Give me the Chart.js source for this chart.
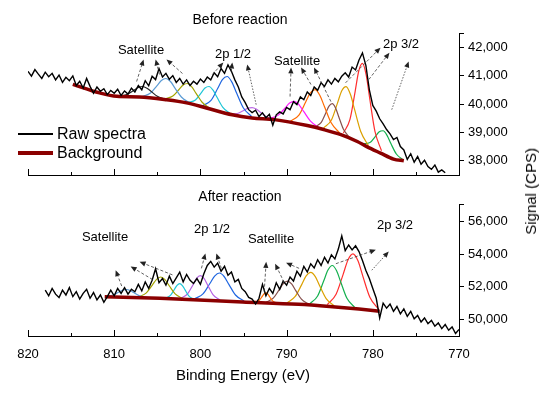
<!DOCTYPE html>
<html>
<head>
<meta charset="utf-8">
<script src="https://cdn.jsdelivr.net/npm/chart.js@4.4.1/dist/chart.umd.min.js"></script>
<style>
  body { margin: 0; background: #fff; font-family: "Liberation Sans", Arial, sans-serif; }
  #wrap { position: relative; width: 550px; height: 393px; overflow: hidden; }
  canvas { position: absolute; left: 0; }
  .t { position: absolute; transform: translate(-50%, -50%); white-space: nowrap; color: #000; font-size: 13px; }
  .leg { position: absolute; left: 57px; transform: translateY(-50%); font-size: 16px; color: #000; }
  .legline { position: absolute; left: 18px; width: 35px; }
  .ytitle { position: absolute; left: 522px; top: 148px; font-size: 15px; color: #000; white-space: nowrap;
            writing-mode: vertical-rl; transform: rotate(180deg); line-height: 17px; }
</style>
</head>
<body>
<div id="wrap">
  <canvas id="cTop" width="550" height="193" style="top:0"></canvas>
  <canvas id="cBot" width="550" height="200" style="top:193px"></canvas>

  <div class="t" style="left:240px;top:19px;font-size:14px">Before reaction</div>
  <div class="t" style="left:240px;top:196px;font-size:14px">After reaction</div>
  <div class="t" style="left:141px;top:49px">Satellite</div>
  <div class="t" style="left:233px;top:53px">2p 1/2</div>
  <div class="t" style="left:297px;top:60px">Satellite</div>
  <div class="t" style="left:401px;top:43px">2p 3/2</div>
  <div class="t" style="left:105px;top:236px">Satellite</div>
  <div class="t" style="left:212px;top:228px">2p 1/2</div>
  <div class="t" style="left:271px;top:238px">Satellite</div>
  <div class="t" style="left:395px;top:224px">2p 3/2</div>
  <div class="t" style="left:243px;top:374px;font-size:15px">Binding Energy (eV)</div>
  <div class="ytitle">Signal (CPS)</div>

  <div class="legline" style="top:133px;height:1.5px;background:#000"></div>
  <div class="leg" style="top:134px">Raw spectra</div>
  <div class="legline" style="top:151px;height:4px;background:#8b0000"></div>
  <div class="leg" style="top:153px">Background</div>
</div>

<script>
// binding energy grid of the raw scans (eV)
const energy = [
  820.0, 819.6, 819.2, 818.8, 818.4, 818.0, 817.6, 817.2, 816.8, 816.4,
  816.0, 815.6, 815.2, 814.8, 814.4, 814.0, 813.6, 813.2, 812.8, 812.4,
  812.0, 811.6, 811.2, 810.8, 810.4, 810.0, 809.6, 809.2, 808.8, 808.4,
  808.0, 807.6, 807.2, 806.8, 806.4, 806.0, 805.6, 805.2, 804.8, 804.4,
  804.0, 803.6, 803.2, 802.8, 802.4, 802.0, 801.6, 801.2, 800.8, 800.4,
  800.0, 799.6, 799.2, 798.8, 798.4, 798.0, 797.6, 797.2, 796.8, 796.4,
  796.0, 795.6, 795.2, 794.8, 794.4, 794.0, 793.6, 793.2, 792.8, 792.4,
  792.0, 791.6, 791.2, 790.8, 790.4, 790.0, 789.6, 789.2, 788.8, 788.4,
  788.0, 787.6, 787.2, 786.8, 786.4, 786.0, 785.6, 785.2, 784.8, 784.4,
  784.0, 783.6, 783.2, 782.8, 782.4, 782.0, 781.6, 781.2, 780.8, 780.4,
  780.0, 779.6, 779.2, 778.8, 778.4, 778.0, 777.6, 777.2, 776.8, 776.4,
  776.0, 775.6, 775.2, 774.8, 774.4, 774.0, 773.6, 773.2, 772.8, 772.4,
  772.0, 771.6, 771.2, 770.8, 770.4, 770.0
];

// raw spectra (CPS)
const rawBefore = [
  41150, 40980, 41210, 41050, 40900, 41120, 40960, 41080, 40850, 41020,
  40760, 40940, 40820, 40990, 40650, 40800, 40560, 40900, 40620, 40380,
  40600, 40450, 40540, 40330, 40480, 40380, 40520, 40300, 40460, 40350,
  40560, 40420, 40650, 40500, 40820, 40640, 40980, 40860, 41250, 40950,
  41080, 40870, 41000, 40760, 40900, 40700, 40850, 40650, 40800, 40700,
  40880, 40760, 40950, 40850, 41100, 40960, 41250, 41080, 41380, 41150,
  40850, 40600, 40250, 40050, 39800, 39700, 39780, 39560, 39690, 39520,
  39640, 39250, 39620, 39720, 39650, 39880, 39800, 40080, 39980, 40250,
  40150, 40420, 40300, 40600, 40480, 40750, 40620, 40850, 40700, 40900,
  40780, 40980, 41100, 40950, 41300, 41200, 41550, 41800, 41350, 40500,
  39950, 39750, 39480, 39300, 39100, 38950, 38750, 38820, 38500, 38380,
  38050, 38250, 37950, 38150, 37880, 38020, 37800, 37700, 37850, 37600,
  37680, 37580, null, null, null, null
];
const rawAfter = [
  null, null, null, null, null, 51800, 51450, 51900, 51550, 51350,
  51800, 51500, 51950, 51400, 51700, 51250, 51600, 51850, 51300, 51650,
  51200, 51500, 51050, 51400, 51800, 51450, 51900, 51600, 51950, 51550,
  51850, 51700, 52150, 51750, 52300, 51900, 52400, 53100, 52250, 52500,
  52100, 52650, 52200, 52550, 52900, 52300, 52750, 52400, 52200, 52500,
  52150, 52800, 53300, 53550, 53200, 53450, 52950, 53250, 52700, 52900,
  52300, 52450, 51900, 51700, 51350, 51250, 50950, 51300, 52150, 51450,
  51900, 51600, 52250, 51850, 52350, 52100, 52600, 52350, 52950, 52650,
  53250, 52900, 53400, 53150, 53650, 53300, 53800, 53450, 53950, 53700,
  54300, 55100, 54200, 54550, 54250, 54500, 54150, 53600, 53000, 52500,
  51900, 51300, 50100, 51000, 50700, 50950, 50500, 50800, 50350, 50650,
  50200, 50500, 50050, 50250, 49850, 50100, 49750, 49950, 49600, 49800,
  49450, 49700, 49350, 49550, 49150, 49400
];

// Shirley-type backgrounds [eV, CPS]
const bgBefore = [[814.8, 40690], [811.7, 40390], [809.7, 40270], [807.1, 40250], [803.9, 40150],
  [801.6, 40040], [799.3, 39860], [796.3, 39620], [794.0, 39510], [791.4, 39450], [787.6, 39240],
  [785.7, 39100], [783.7, 38920], [781.8, 38680], [780.7, 38500], [779.1, 38270], [777.6, 38060], [776.4, 38000]];
const bgAfter = [[811.1, 51400], [804.7, 51300], [795.1, 51080], [788.6, 50930], [784.7, 50780],
  [781.6, 50640], [779.2, 50510]];

// fitted components, before reaction
const b1 = [[809.3, 40280], [808.4, 40350], [807.7, 40486], [807.2, 40585], [806.7, 40617], [806.2, 40557], [805.7, 40437], [805.0, 40274], [804.1, 40169]];
const b2 = [[806.73, 40263], [805.79, 40385], [805.05, 40638], [804.53, 40827], [804.0, 40898], [803.47, 40791], [802.95, 40560], [802.21, 40246], [801.27, 40039]];
const b3 = [[804.1, 40179], [803.2, 40281], [802.5, 40502], [802.0, 40668], [801.5, 40722], [801.0, 40602], [800.5, 40373], [799.8, 40062], [798.9, 39851]];
const b4 = [[801.42, 40053], [800.58, 40144], [799.93, 40382], [799.47, 40561], [799.0, 40616], [798.53, 40486], [798.07, 40235], [797.42, 39894], [796.58, 39669]];
const b5 = [[799.76, 39940], [798.77, 40125], [798.0, 40545], [797.45, 40859], [796.9, 40968], [796.35, 40771], [795.8, 40385], [795.03, 39867], [794.04, 39556]];
const b6 = [[796.47, 39646], [795.62, 39673], [794.95, 39777], [794.48, 39855], [794.0, 39875], [793.52, 39821], [793.05, 39710], [792.38, 39559], [791.53, 39465]];
const b7 = [[791.96, 39489], [790.97, 39608], [790.2, 39850], [789.65, 40032], [789.1, 40093], [788.55, 39971], [788.0, 39729], [787.23, 39395], [786.24, 39166]];
const b8 = [[789.56, 39393], [788.57, 39608], [787.8, 40061], [787.25, 40391], [786.7, 40509], [786.15, 40310], [785.6, 39901], [784.83, 39337], [783.84, 38978]];
const b9 = [[786.65, 39204], [785.98, 39356], [785.45, 39685], [785.08, 39926], [784.7, 40010], [784.32, 39858], [783.95, 39550], [783.42, 39121], [782.75, 38834]];
const b10 = [[785.7, 39160], [784.8, 39437], [784.1, 40030], [783.6, 40468], [783.1, 40614], [782.6, 40342], [782.1, 39792], [781.4, 39032], [780.5, 38531]];
const b11 = [[783.41, 38981], [782.65, 39460], [782.05, 40439], [781.63, 41162], [781.2, 41428], [780.77, 41022], [780.35, 40177], [779.75, 39036], [778.99, 38353]];
const b12 = [[781.14, 38600], [780.33, 38643], [779.7, 38861], [779.25, 39025], [778.8, 39058], [778.35, 38897], [777.9, 38606], [777.27, 38240], [776.46, 38028]];

// fitted components, after reaction
const a1 = [[810.94, 51414], [810.13, 51497], [809.5, 51663], [809.05, 51787], [808.6, 51836], [808.15, 51773], [807.7, 51635], [807.07, 51449], [806.26, 51340]];
const a2 = [[807.15, 51382], [806.27, 51631], [805.58, 52103], [805.09, 52453], [804.6, 52598], [804.11, 52433], [803.62, 52064], [802.93, 51566], [802.05, 51283]];
const a3 = [[804.01, 51316], [803.45, 51495], [803.02, 51838], [802.71, 52092], [802.4, 52197], [802.09, 52078], [801.78, 51810], [801.35, 51447], [800.79, 51243]];
const a4 = [[802.26, 51294], [801.48, 51576], [800.87, 52113], [800.44, 52512], [800.0, 52677], [799.56, 52492], [799.13, 52073], [798.52, 51508], [797.74, 51190]];
const a5 = [[800.66, 51265], [799.67, 51585], [798.9, 52199], [798.35, 52653], [797.8, 52842], [797.25, 52628], [796.7, 52149], [795.93, 51500], [794.94, 51134]];
const a6 = [[793.57, 51066], [793.17, 51180], [792.85, 51398], [792.63, 51561], [792.4, 51628], [792.17, 51551], [791.95, 51378], [791.63, 51144], [791.23, 51012]];
const a7 = [[792.37, 51064], [791.52, 51326], [790.85, 51826], [790.38, 52197], [789.9, 52350], [789.42, 52175], [788.95, 51782], [788.28, 51246], [787.43, 50932]];
const a8 = [[789.93, 51029], [789.0, 51411], [788.25, 52131], [787.73, 52660], [787.2, 52876], [786.67, 52620], [786.15, 52050], [785.41, 51279], [784.47, 50838]];
const a9 = [[787.3, 50966], [786.4, 51440], [785.7, 52348], [785.2, 53022], [784.7, 53300], [784.2, 52980], [783.7, 52265], [783.0, 51298], [782.1, 50749]];
const a10 = [[785.29, 50915], [784.26, 51546], [783.45, 52745], [782.88, 53635], [782.3, 54002], [781.72, 53582], [781.15, 52637], [780.34, 51362], [779.31, 50629]];

const peaksBefore = [b1, b2, b3, b4, b5, b6, b7, b8, b9, b10, b11, b12];
const peaksAfter = [a1, a2, a3, a4, a5, a6, a7, a8, a9, a10];
const colorsBefore = ['#262626', '#5b9bd5', '#a3a300', '#1fc6d6', '#1f66e0', '#bd6ae6',
  '#ff1aff', '#ff6a00', '#86504d', '#dba000', '#ff2e2e', '#14b04e'];
const colorsAfter = ['#5b9bd5', '#a3a300', '#1fc6d6', '#b561e3', '#1f66e0',
  '#ff6a00', '#86504d', '#dba000', '#14b04e', '#ff2e2e'];

// axis ticks
const xTicks = [820, 815, 810, 805, 800, 795, 790, 785, 780, 775, 770];
const yTicksBefore = [38000, 39000, 40000, 41000, 42000, 42500];
const yTicksAfter = [50000, 52000, 54000, 56000, 57000];

// pointer arrows [eV, CPS]
const arrowsBefore = [
  { from: [807.40, 40792], to: [806.59, 41569] },
  { from: [804.74, 41039], to: [805.20, 41569] },
  { from: [802.08, 41075], to: [803.93, 41569] },
  { from: [798.61, 41039], to: [797.34, 41463] },
  { from: [796.42, 41145], to: [796.30, 41463] },
  { from: [793.53, 39979], to: [794.57, 41393], dot: true },
  { from: [789.60, 40262], to: [789.48, 41287] },
  { from: [787.17, 40686], to: [788.32, 41287] },
  { from: [784.86, 40085], to: [786.82, 41287] },
  { from: [783.16, 40746], to: [779.11, 41983] },
  { from: [780.46, 40862], to: [778.07, 41806] },
  { from: [777.80, 39802], to: [775.84, 41499], dot: true }
];
const arrowsAfter = [
  { from: [809.13, 52046], to: [809.83, 53011] },
  { from: [805.55, 52443], to: [808.09, 53239] },
  { from: [803.24, 52727], to: [807.05, 53523] },
  { from: [799.88, 53125], to: [799.42, 54034] },
  { from: [797.57, 53125], to: [798.15, 54034] },
  { from: [792.60, 51705], to: [792.37, 53523] },
  { from: [790.29, 52273], to: [791.33, 53409] },
  { from: [788.55, 53125], to: [790.06, 53466] },
  { from: [784.28, 53409], to: [779.65, 54262] },
  { from: [780.12, 53011], to: [778.15, 54148], dot: true }
];

Chart.defaults.font.family = '"Liberation Sans", Arial, sans-serif';
Chart.defaults.color = '#000';

function withCommas(v) {
  return String(v).replace(/\B(?=(\d{3})+(?!\d))/g, ',');
}

// x ticks point inward, plus the dashed pointer arrows
const decor = {
  id: 'decor',
  afterDatasetsDraw(chart, args, opts) {
    const ctx = chart.ctx, xs = chart.scales.x, ys = chart.scales.y;
    const bottom = chart.chartArea.bottom;
    ctx.save();
    ctx.strokeStyle = '#000';
    ctx.lineWidth = 1;
    xs.ticks.forEach(t => {
      const px = Math.round(xs.getPixelForValue(t.value)) + 0.5;
      const len = t.value % 10 === 0 ? 6 : 3;
      ctx.beginPath();
      ctx.moveTo(px, bottom);
      ctx.lineTo(px, bottom - len);
      ctx.stroke();
    });
    (opts.list || []).forEach(a => {
      const x1 = xs.getPixelForValue(a.from[0]), y1 = ys.getPixelForValue(a.from[1]);
      const x2 = xs.getPixelForValue(a.to[0]), y2 = ys.getPixelForValue(a.to[1]);
      const ang = Math.atan2(y2 - y1, x2 - x1);
      ctx.strokeStyle = '#3a3a3a';
      ctx.lineWidth = 0.8;
      ctx.setLineDash(a.dot ? [1.5, 1.5] : [3, 2]);
      ctx.beginPath();
      ctx.moveTo(x1, y1);
      ctx.lineTo(x2 - 4 * Math.cos(ang), y2 - 4 * Math.sin(ang));
      ctx.stroke();
      ctx.setLineDash([]);
      ctx.fillStyle = '#222';
      ctx.beginPath();
      ctx.moveTo(x2, y2);
      ctx.lineTo(x2 - 6 * Math.cos(ang) + 2.6 * Math.sin(ang), y2 - 6 * Math.sin(ang) - 2.6 * Math.cos(ang));
      ctx.lineTo(x2 - 6 * Math.cos(ang) - 2.6 * Math.sin(ang), y2 - 6 * Math.sin(ang) + 2.6 * Math.cos(ang));
      ctx.closePath();
      ctx.fill();
    });
    ctx.restore();
  }
};

function makePanel(canvasId, raw, bg, peaks, colors, yTicks, yMin, yMax, yStep, arrows, padTop, xHeight, showX) {
  const datasets = [];
  datasets.push({
    data: energy.map((e, i) => ({ x: e, y: raw[i] })),
    borderColor: '#000', borderWidth: 1.4, pointRadius: 0, tension: 0, order: 0
  });
  datasets.push({
    data: bg, borderColor: '#8b0000', borderWidth: 3.5, pointRadius: 0,
    cubicInterpolationMode: 'monotone', order: 1
  });
  peaks.forEach((p, i) => {
    datasets.push({
      data: p, borderColor: colors[i], borderWidth: 1.2, pointRadius: 0,
      cubicInterpolationMode: 'monotone', order: 2
    });
  });

  return new Chart(document.getElementById(canvasId), {
    type: 'line',
    data: { datasets },
    options: {
      responsive: false,
      devicePixelRatio: 1,
      animation: false,
      layout: { padding: { left: 28, top: padTop, right: 0, bottom: 0 } },
      plugins: { legend: { display: false }, tooltip: { enabled: false }, decor: { list: arrows } },
      scales: {
        x: {
          type: 'linear', min: 770, max: 820, reverse: true,
          afterBuildTicks: s => { s.ticks = xTicks.map(v => ({ value: v })); },
          afterFit: s => { s.height = xHeight; },
          grid: { display: false },
          border: { display: true, color: '#000', width: 1 },
          ticks: {
            display: showX, padding: 3, maxRotation: 0, autoSkip: false,
            font: { size: 13 },
            callback: v => (v % 10 === 0 ? String(v) : '')
          }
        },
        y: {
          type: 'linear', position: 'right', min: yMin, max: yMax,
          afterBuildTicks: s => { s.ticks = yTicks.map(v => ({ value: v })); },
          afterFit: s => { s.width = 91; },
          grid: { drawOnChartArea: false, drawTicks: true, tickLength: 5, color: '#000' },
          border: { display: true, color: '#000', width: 1 },
          ticks: {
            padding: 4, autoSkip: false, font: { size: 13 },
            callback: v => (v % yStep === 0 ? withCommas(v) : '')
          }
        }
      }
    },
    plugins: [decor]
  });
}

makePanel('cTop', rawBefore, bgBefore, peaksBefore, colorsBefore, yTicksBefore,
  37500, 42500, 1000, arrowsBefore, 33, 18, false);
makePanel('cBot', rawAfter, bgAfter, peaksAfter, colorsAfter, yTicksAfter,
  49000, 57000, 2000, arrowsAfter, 4, 57, true);
</script>
</body>
</html>
